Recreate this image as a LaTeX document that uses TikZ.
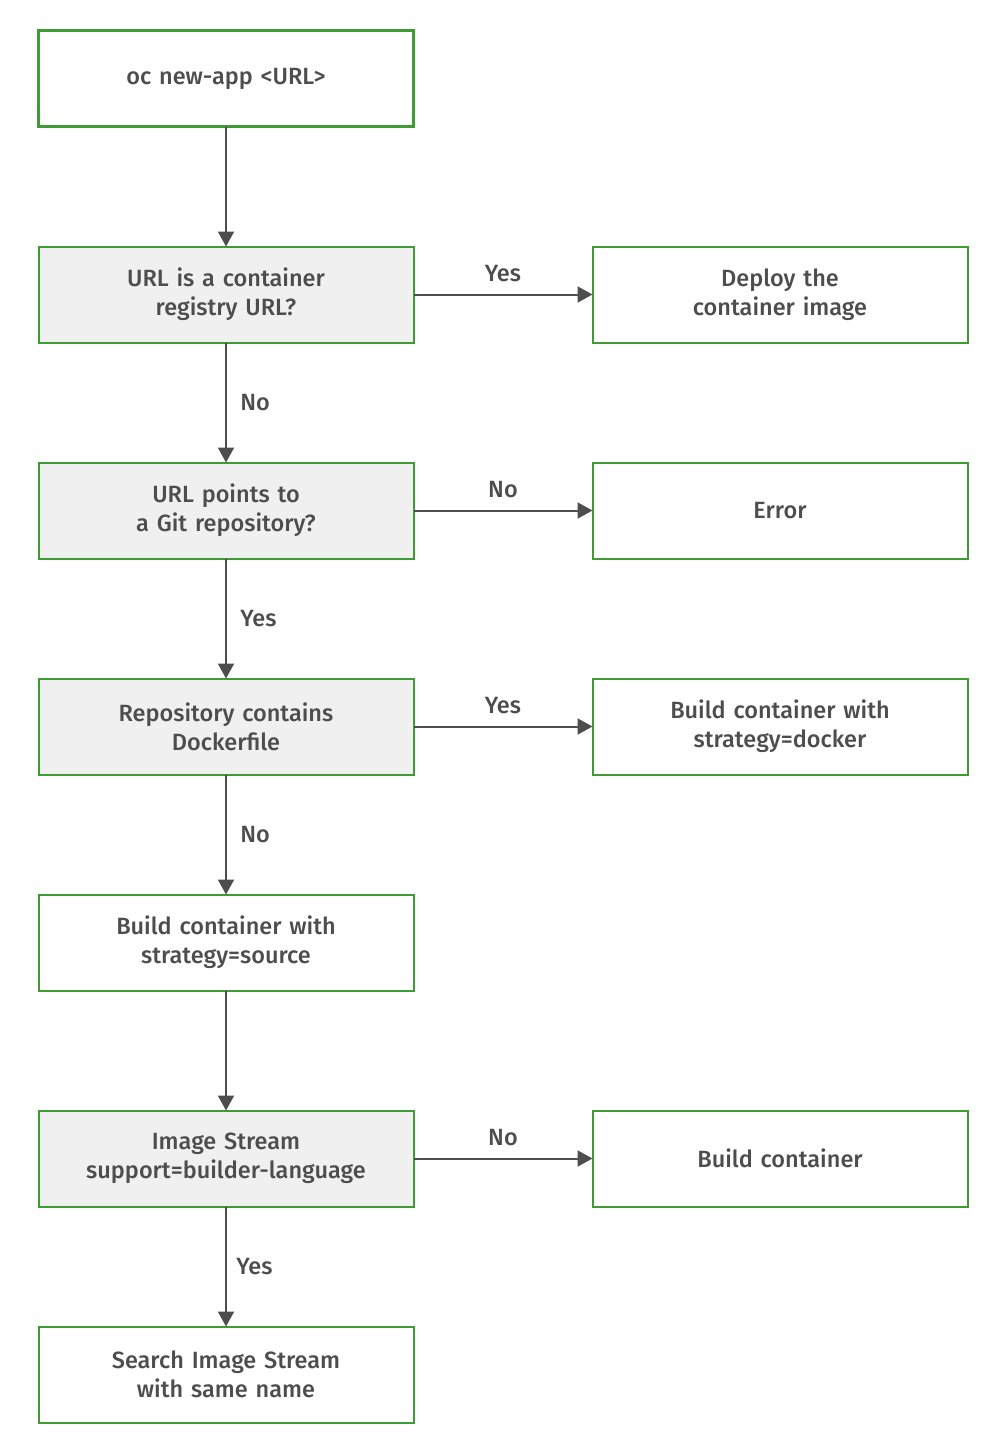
\documentclass[tikz,border=0pt]{standalone}
\usepackage{fontspec}
\setmainfont{Fira Sans}[UprightFont={* Medium}]
\usepackage{tikz}
\usetikzlibrary{arrows.meta, positioning}
\definecolor{rhgreen}{HTML}{3F9C35}
\definecolor{rhgray}{HTML}{4D4D4D}
\definecolor{rhfill}{HTML}{F0F0F0}

\begin{document}
\begin{tikzpicture}[
  x=1pt, y=1pt,
  node distance=120pt and 179pt,
  box/.style={draw=rhgreen, line width=2pt, fill=white, outer sep=0pt,
              minimum width=375pt, minimum height=96pt, text width=360pt,
              align=center, font=\fontsize{23.5}{29}\selectfont, text=rhgray},
  test/.style={box, fill=rhfill},
  start/.style={box, line width=3pt},
  lbl/.style={font=\fontsize{23.5}{27}\selectfont, text=rhgray},
  arrow/.style={-{Triangle[width=16pt,length=15pt]}, line width=2pt, rhgray}
]
\useasboundingbox (0,0) rectangle (994,-1452);

\node[start] (start) at (226,-78.5) {oc new-app <URL>};

\node[test, below=of start] (reg) {URL is a container\\registry URL?};
\node[box, right=of reg] (deploy) {Deploy the\\container image};

\node[test, below=of reg] (git) {URL points to\\a Git repository?};
\node[box, right=of git] (err) {Error};

\node[test, below=of git] (dock) {Repository contains\\Dockerfile};
\node[box, right=of dock] (bdock) {Build container with\\strategy=docker};

\node[box, below=of dock] (bsrc) {Build container with\\strategy=source};

\node[test, below=of bsrc] (istream) {Image Stream\\support=builder-language};
\node[box, right=of istream] (build) {Build container};

\node[box, below=of istream] (search) {Search Image Stream\\with same name};

\draw[arrow] (start) -- (reg);
\draw[arrow] (reg) -- node[lbl, right=10pt] {No} (git);
\draw[arrow] (git) -- node[lbl, right=10pt] {Yes} (dock);
\draw[arrow] (dock) -- node[lbl, right=10pt] {No} (bsrc);
\draw[arrow] (bsrc) -- (istream);
\draw[arrow] (istream) -- node[lbl, right=6pt] {Yes} (search);

\draw[arrow] (reg) -- node[lbl, above=8pt] {Yes} (deploy);
\draw[arrow] (git) -- node[lbl, above=8pt] {No} (err);
\draw[arrow] (dock) -- node[lbl, above=8pt] {Yes} (bdock);
\draw[arrow] (istream) -- node[lbl, above=8pt] {No} (build);
\end{tikzpicture}
\end{document}
